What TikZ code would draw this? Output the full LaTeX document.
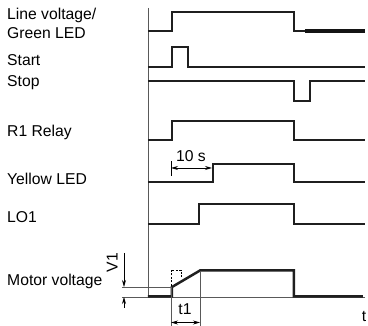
\documentclass[tikz,border=0pt]{standalone}
\usepackage{fontspec}
\setmainfont{Liberation Sans}
\usetikzlibrary{arrows.meta}
\begin{document}
\begin{tikzpicture}[x=1pt,y=-1pt,
  sig/.style={line width=2.5pt,color=black!88,line join=miter},
  thin/.style={line width=0.9pt,color=black!65},
  dim/.style={line width=0.8pt,color=black,-{Stealth[length=7pt,width=4pt]}},
  dimb/.style={line width=0.8pt,color=black,{Stealth[length=7pt,width=4pt]}-{Stealth[length=7pt,width=4pt]}},
  lbl/.style={anchor=base west,inner sep=0pt,font=\fontsize{15.7}{18}\selectfont},
  txt/.style={inner sep=0pt,font=\fontsize{15.7}{18}\selectfont}]
\useasboundingbox (0,0) rectangle (368,326);
% labels
\node[lbl] (l1) at (7,20) {Line voltage/};
\node[lbl] (l1b) at (7,38.5) {Green LED};
\node[lbl] (l2) at (7,65.5) {Start};
\node[lbl] (l3) at (7,87) {Stop};
\node[lbl] (l4) at (7,137) {R1 Relay};
\node[lbl] (l5) at (7,185) {Yellow LED};
\node[lbl] (l6) at (7,223) {LO1};
\node[lbl] (l7) at (7,286) {Motor voltage};
% axes
\draw[thin] (148,8) -- (148,297) -- (365,297);
% signals
\draw[sig] (148,31) -- (172,31) -- (172,12) -- (294,12) -- (294,31) -- (365,31);
\draw[line width=3.4pt,color=black!92] (305,31) -- (365,31);
\draw[sig] (148,67) -- (172,67) -- (172,47) -- (188,47) -- (188,67) -- (365,67);
\draw[sig] (148,81) -- (294,81) -- (294,101) -- (310,101) -- (310,81) -- (365,81);
\draw[sig] (148,140) -- (172,140) -- (172,121) -- (294,121) -- (294,140) -- (365,140);
\draw[sig] (148,182) -- (213,182) -- (213,164) -- (294,164) -- (294,182) -- (365,182);
\draw[sig] (148,224) -- (199,224) -- (199,204) -- (294,204) -- (294,224) -- (365,224);
\draw[sig] (148,296.5) -- (172,296.5) -- (172,287) -- (200,270.5) -- (294,270.5) -- (294,296.5) -- (363,296.5);
% 10 s
\coordinate (ta) at (171,168);
\coordinate (tb) at (212,168);
\draw[thin,color=black] (171,161) -- (171,176);
\draw[dimb] (ta) -- (tb);
\node[txt,anchor=base] (ten) at (191,161.5) {10 s};
% dashed box
\draw[line width=0.8pt,dash pattern=on 2pt off 1.5pt] (171,286) -- (171,270) -- (181,270) -- (181,279);
% V1 dimension
\draw[thin] (122,287) -- (172,287);
\draw[thin] (122,297) -- (148,297);
\coordinate (v1a) at (124,253);
\coordinate (v1b) at (124,287);
\coordinate (v2a) at (124,308);
\coordinate (v2b) at (124,297);
\draw[dim] (v1a) -- (v1b);
\draw[dim] (v2a) -- (v2b);
\node[txt,rotate=90,anchor=base] (v1) at (117.5,262.5) {V1};
% t1 dimension
\draw[thin] (171,287) -- (171,326);
\draw[thin] (200,271) -- (200,326);
\coordinate (t1a) at (171,322.5);
\coordinate (t1b) at (200,322.5);
\draw[dimb] (t1a) -- (t1b);
\node[txt,anchor=base] (t1) at (185,315) {t1};
\node[txt,anchor=base] (tt) at (364,322) {t};
\end{tikzpicture}
\end{document}
